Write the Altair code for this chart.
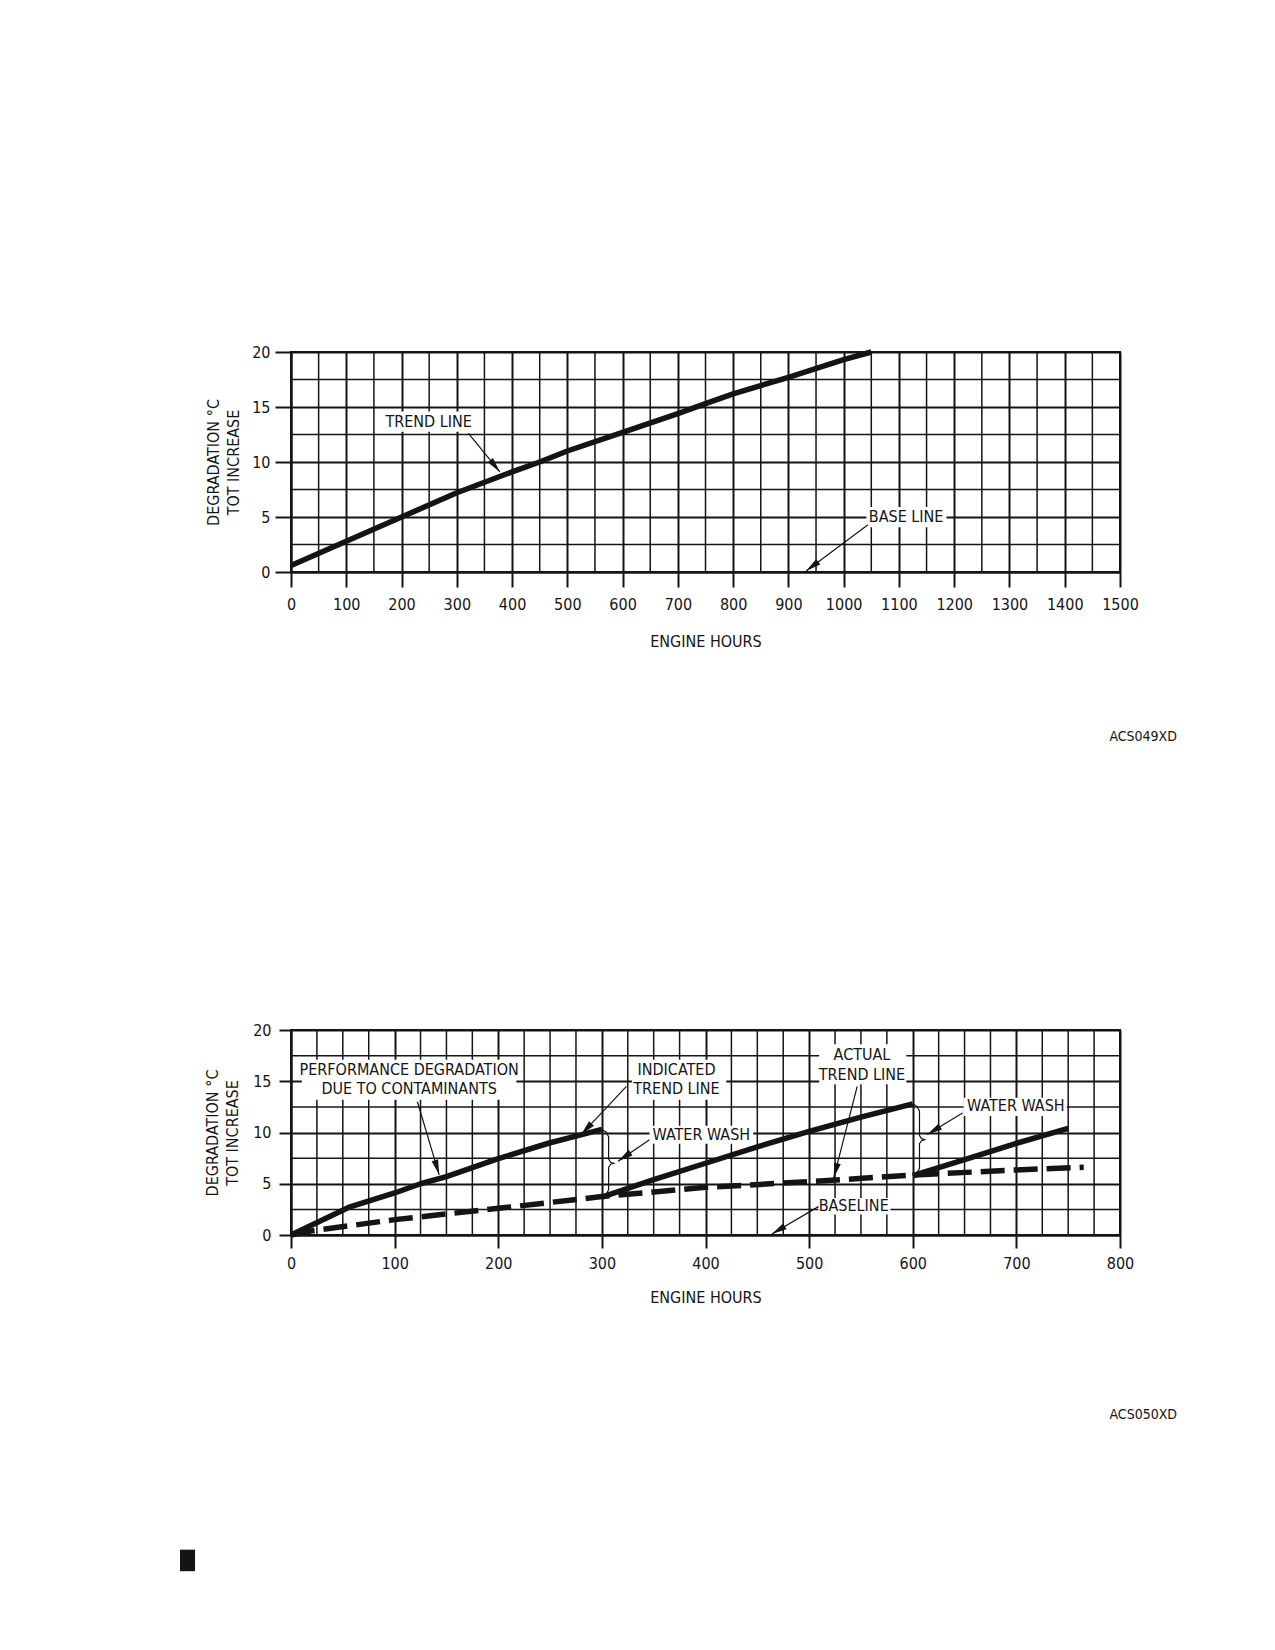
import math
import altair as alt
import pandas as pd

FONT = "'Liberation Sans Narrow', 'DejaVu Sans Condensed', 'Roboto Condensed', 'Arial Narrow', 'Liberation Sans', sans-serif"
INK = "#141414"
FS = 16

# ---------------- chart 1 (ACS049XD) ----------------
c1_hours = [0, 100, 200, 300, 400, 450, 500, 600, 700, 750, 800, 900, 1000, 1050]
c1_trend = [0.6, 2.8, 5.0, 7.2, 9.1, 10.0, 11.0, 12.7, 14.4, 15.3, 16.2, 17.7, 19.3, 20.0]
c1_x_major = list(range(0, 1501, 100))
c1_x_minor = list(range(50, 1500, 100))
c1_y_major = [0, 5, 10, 15, 20]
c1_y_minor = [2.5, 7.5, 12.5, 17.5]

c1_text = ["TREND LINE", "BASE LINE"]
c1_text_h = [249, 1113]
c1_text_v = [13.6, 5.0]
c1_box_h1 = [165, 1041]
c1_box_h2 = [327, 1186]
c1_box_v1 = [12.75, 4.06]
c1_box_v2 = [14.6, 5.9]
c1_arrow_h1 = [321, 1044]
c1_arrow_v1 = [12.6, 4.3]
c1_arrow_h2 = [378, 932]
c1_arrow_v2 = [9.1, 0.1]
c1_code = ["ACS049XD"]
c1_code_h = [1603]
c1_code_v = [-15.0]

# ---------------- chart 2 (ACS050XD) ----------------
c2_trend1_hours = [0, 57, 100, 125, 150, 200, 250, 275, 300]
c2_trend1_vals = [0.0, 2.75, 4.1, 5.0, 5.7, 7.45, 9.0, 9.65, 10.3]
c2_trend2_hours = [300, 350, 400, 450, 500, 550, 600]
c2_trend2_vals = [3.7, 5.4, 7.0, 8.6, 10.1, 11.5, 12.8]
c2_trend3_hours = [600, 650, 700, 750]
c2_trend3_vals = [5.8, 7.35, 8.95, 10.4]
c2_base_hours = [0, 20, 100, 200, 300, 400, 500, 600, 700, 765]
c2_base_vals = [0.0, 0.4, 1.5, 2.6, 3.75, 4.65, 5.2, 5.85, 6.35, 6.6]

c2_brace1_h = [300, 304, 306.5, 306.5, 308.5, 311.5, 308.5, 306.5, 306.5, 304, 300]
c2_brace1_v = [10.3, 10.05, 9.6, 7.4, 7.1, 7.0, 6.9, 6.6, 4.4, 3.95, 3.7]
c2_brace2_h = [600, 604, 606.5, 606.5, 608.5, 611.5, 608.5, 606.5, 606.5, 604, 600]
c2_brace2_v = [12.8, 12.55, 12.1, 9.7, 9.4, 9.3, 9.2, 8.9, 6.5, 6.05, 5.8]

c2_x_major = list(range(0, 801, 100))
c2_x_minor = [h for h in range(25, 800, 25) if h % 100 != 0]
c2_y_major = [0, 5, 10, 15, 20]
c2_y_minor = [2.5, 7.5, 12.5, 17.5]

c2_text = ["PERFORMANCE DEGRADATION", "DUE TO CONTAMINANTS", "INDICATED", "TREND LINE",
           "ACTUAL", "TREND LINE", "WATER WASH", "WATER WASH", "BASELINE"]
c2_text_h = [114, 114, 372, 372, 551, 551, 396, 699.5, 543]
c2_text_v = [16.1, 14.2, 16.1, 14.2, 17.6, 15.65, 9.8, 12.55, 2.85]
c2_box_h1 = [10.4, 329, 509.7, 346, 649, 509]
c2_box_h2 = [217.5, 420, 593.8, 446, 748.7, 578.5]
c2_box_v1 = [13.2, 13.2, 14.7, 8.9, 11.6, 2.0]
c2_box_v2 = [17.1, 17.1, 18.6, 10.67, 13.4, 3.6]
c2_arrow_h1 = [122, 323.7, 346, 546.4, 648, 509]
c2_arrow_v1 = [13.0, 14.5, 9.3, 14.5, 11.9, 2.77]
c2_arrow_h2 = [143, 280, 315.6, 523.7, 614, 464]
c2_arrow_v2 = [5.87, 9.8, 7.2, 5.55, 9.8, 0.1]
c2_code = ["ACS050XD"]
c2_code_h = [855]
c2_code_v = [-17.6]
c2_mark_h1 = [-107.1]
c2_mark_h2 = [-92.6]
c2_mark_v1 = [-30.7]
c2_mark_v2 = [-32.8]

W = 829
H1 = 220
H2 = 205

ARROW = "M0,0 L0.45,2 L-0.45,2 Z"


def arrow_angles(h1, v1, h2, v2, kx, ky):
    out = []
    for a, b, c, d in zip(h1, v1, h2, v2):
        dx = (c - a) * kx
        dy = -(d - b) * ky
        out.append(math.degrees(math.atan2(dx, -dy)) % 360)
    return out


def panel(width, height, xdom, ydom, xmaj, xmin, ymaj, ymin, xtick, ytick,
          xlabpad, ylabpad, xtitlepad, ytitlepad, lines, texts, boxes, arrows,
          braces, code, extra=None):
    xs = alt.Scale(domain=xdom, nice=False, zero=False)
    ys = alt.Scale(domain=ydom, nice=False, zero=False)
    xaxis = alt.Axis(values=xmaj, grid=True, gridColor=INK, gridWidth=2, gridOpacity=1,
                     domainColor=INK, domainWidth=2, tickColor=INK, tickWidth=2, tickSize=xtick,
                     labelFont=FONT, labelFontSize=FS, labelColor=INK, labelPadding=xlabpad,
                     labelFlush=False, labelOverlap=False, format="d",
                     title="ENGINE HOURS", titleFont=FONT, titleFontSize=FS,
                     titleFontWeight="normal", titleColor=INK, titlePadding=xtitlepad)
    yaxis = alt.Axis(values=ymaj, grid=True, gridColor=INK, gridWidth=2, gridOpacity=1,
                     domainColor=INK, domainWidth=2, tickColor=INK, tickWidth=2, tickSize=ytick,
                     labelFont=FONT, labelFontSize=FS, labelColor=INK, labelPadding=ylabpad,
                     labelFlush=False, labelOverlap=False, format="d",
                     title=["DEGRADATION \u00b0C", "TOT INCREASE"], titleFont=FONT,
                     titleFontSize=FS, titleFontWeight="normal", titleColor=INK,
                     titlePadding=ytitlepad, titleLineHeight=20)

    X = lambda f: alt.X(f, type="quantitative", scale=xs, axis=xaxis)
    Y = lambda f: alt.Y(f, type="quantitative", scale=ys, axis=yaxis)

    vminor = alt.Chart(pd.DataFrame({"h": xmin})).mark_rule(color=INK, strokeWidth=1.5).encode(
        x=X("h"))
    hminor = alt.Chart(pd.DataFrame({"v": ymin})).mark_rule(color=INK, strokeWidth=1.5).encode(
        y=Y("v"))

    layers = [vminor, hminor]

    layers.append(alt.Chart(boxes).mark_rect(fill="white").encode(
        x=X("h1"), x2=alt.X2("h2"), y=Y("v1"), y2=alt.Y2("v2")))

    if braces is not None:
        layers.append(alt.Chart(braces).mark_line(color=INK, strokeWidth=1.2).encode(
            x=X("h"), y=Y("v"), detail="id:N", order="k:Q"))

    layers.append(alt.Chart(arrows).mark_rule(color=INK, strokeWidth=1.2).encode(
        x=X("h1"), y=Y("v1"), x2=alt.X2("h2"), y2=alt.Y2("v2")))
    layers.append(alt.Chart(arrows).mark_point(shape=ARROW, filled=True, size=230, opacity=1,
                                               color=INK, strokeWidth=0).encode(
        x=X("h2"), y=Y("v2"), angle=alt.Angle("ang:Q", scale=None)))

    for df, dash in lines:
        kw = dict(color=INK, strokeWidth=5.5, strokeCap="butt", strokeJoin="round")
        if dash:
            kw["strokeDash"] = [24, 9]
        layers.append(alt.Chart(df).mark_line(**kw).encode(
            x=X("h"), y=Y("v"), detail="s:N", order="k:Q"))

    layers.append(alt.Chart(texts).mark_text(font=FONT, fontSize=FS, color=INK, align="center",
                                             baseline="middle").encode(
        x=X("h"), y=Y("v"), text="t:N"))
    layers.append(alt.Chart(code).mark_text(font=FONT, fontSize=14, color=INK, align="right",
                                            baseline="middle").encode(
        x=X("h"), y=Y("v"), text="t:N"))
    if extra is not None:
        layers.append(alt.Chart(extra).mark_rect(color=INK).encode(
            x=X("h1"), x2=alt.X2("h2"), y=Y("v1"), y2=alt.Y2("v2")))

    return alt.layer(*layers).properties(width=width, height=height)


def seq_df(hs, vs, name):
    return pd.DataFrame({"h": hs, "v": vs, "s": [name] * len(hs), "k": list(range(len(hs)))})


# ----- chart 1 frames -----
k1x, k1y = W / 1500, H1 / 20
c1_lines = [(seq_df(c1_hours, c1_trend, "trend"), False)]
c1_texts = pd.DataFrame({"t": c1_text, "h": c1_text_h, "v": c1_text_v})
c1_boxes = pd.DataFrame({"h1": c1_box_h1, "h2": c1_box_h2, "v1": c1_box_v1, "v2": c1_box_v2})
c1_arrows = pd.DataFrame({"h1": c1_arrow_h1, "v1": c1_arrow_v1, "h2": c1_arrow_h2, "v2": c1_arrow_v2,
                          "ang": arrow_angles(c1_arrow_h1, c1_arrow_v1, c1_arrow_h2, c1_arrow_v2, k1x, k1y)})
c1_codes = pd.DataFrame({"t": c1_code, "h": c1_code_h, "v": c1_code_v})

top = panel(W, H1, [0, 1500], [0, 20], c1_x_major, c1_x_minor, c1_y_major, c1_y_minor,
            15, 16, 9, 5, 21, 10, c1_lines, c1_texts, c1_boxes, c1_arrows, None, c1_codes)

# ----- chart 2 frames -----
k2x, k2y = W / 800, H2 / 20
c2_lines = [
    (pd.concat([seq_df(c2_trend1_hours, c2_trend1_vals, "t1"),
                seq_df(c2_trend2_hours, c2_trend2_vals, "t2"),
                seq_df(c2_trend3_hours, c2_trend3_vals, "t3")]), False),
    (seq_df(c2_base_hours, c2_base_vals, "base"), True),
]
c2_texts = pd.DataFrame({"t": c2_text, "h": c2_text_h, "v": c2_text_v})
c2_boxes = pd.DataFrame({"h1": c2_box_h1, "h2": c2_box_h2, "v1": c2_box_v1, "v2": c2_box_v2})
c2_arrows = pd.DataFrame({"h1": c2_arrow_h1, "v1": c2_arrow_v1, "h2": c2_arrow_h2, "v2": c2_arrow_v2,
                          "ang": arrow_angles(c2_arrow_h1, c2_arrow_v1, c2_arrow_h2, c2_arrow_v2, k2x, k2y)})
c2_braces = pd.concat([
    pd.DataFrame({"h": c2_brace1_h, "v": c2_brace1_v, "id": "b1", "k": list(range(len(c2_brace1_h)))}),
    pd.DataFrame({"h": c2_brace2_h, "v": c2_brace2_v, "id": "b2", "k": list(range(len(c2_brace2_h)))}),
])
c2_codes = pd.DataFrame({"t": c2_code, "h": c2_code_h, "v": c2_code_v})
c2_mark = pd.DataFrame({"h1": c2_mark_h1, "h2": c2_mark_h2, "v1": c2_mark_v1, "v2": c2_mark_v2})

bottom = panel(W, H2, [0, 800], [0, 20], c2_x_major, c2_x_minor, c2_y_major, c2_y_minor,
               13, 12, 7, 8, 18, 12, c2_lines, c2_texts, c2_boxes, c2_arrows, c2_braces, c2_codes,
               extra=c2_mark)

chart = alt.vconcat(top, bottom, spacing=458, bounds="flush").properties(
    padding={"left": 171, "top": 335, "right": 5, "bottom": 5},
    background="white",
).configure_view(stroke=INK, strokeWidth=2)

chart.save("out.html", embed_options={"renderer": "svg", "actions": False})
